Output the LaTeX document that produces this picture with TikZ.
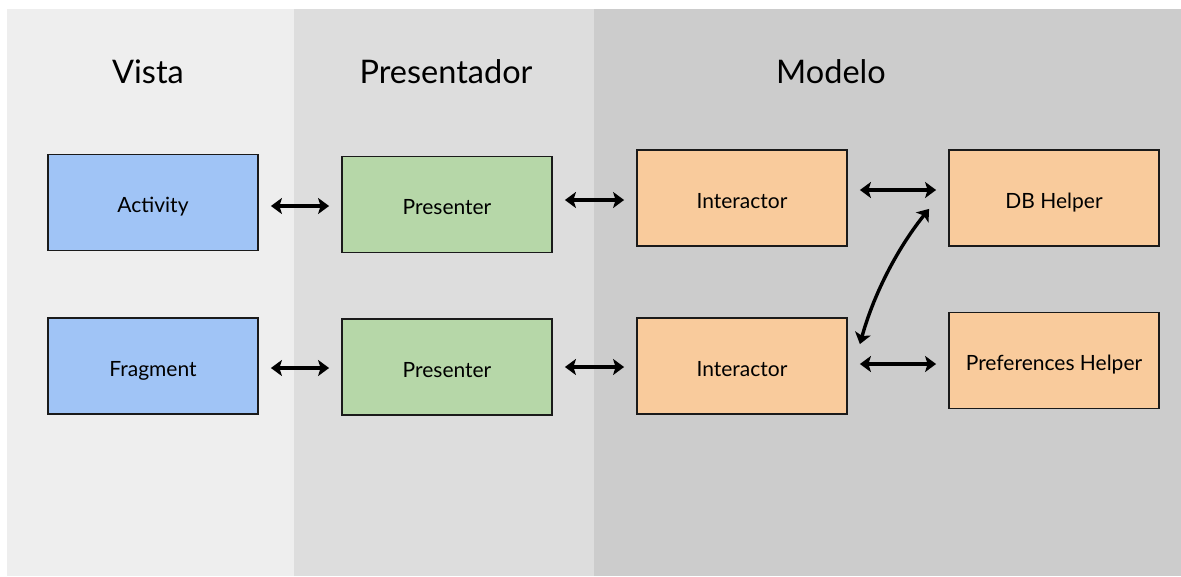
\documentclass[tikz,border=0pt]{standalone}
\usepackage{fontspec}
\setmainfont{Lato}
\usetikzlibrary{arrows.meta}
\definecolor{vistabg}{HTML}{EEEEEE}
\definecolor{presbg}{HTML}{DDDDDD}
\definecolor{modelbg}{HTML}{CCCCCC}
\definecolor{viewfill}{HTML}{A0C4F6}
\definecolor{presfill}{HTML}{B6D7A8}
\definecolor{modelfill}{HTML}{F9CB9C}
\definecolor{edge}{HTML}{1A1A1A}
\tikzset{
  layer/.style={font=\fontsize{32.5}{38}\selectfont, text=black},
  block/.style={draw=edge, line width=1.8pt, minimum width=210pt, minimum height=96pt,
    inner sep=0pt, font=\fontsize{21}{25}\selectfont, text=black,
    text height=20pt, text depth=0pt},
  viewbox/.style={block, fill=viewfill},
  presbox/.style={block, fill=presfill},
  modelbox/.style={block, fill=modelfill},
  link/.style={line width=3.4pt, draw=black,
    {Stealth[length=11pt,width=16pt,inset=2.5pt]}-{Stealth[length=11pt,width=16pt,inset=2.5pt]},
    shorten <=12pt, shorten >=12pt}
}
\begin{document}
\begin{tikzpicture}[x=1pt,y=-1pt]
  \useasboundingbox (0,0) rectangle (1181,576);
  \fill[white] (0,0) rectangle (1181,576);
  % layer backgrounds
  \fill[vistabg] (7,9) rectangle (294,576);
  \fill[presbg] (294,9) rectangle (594,576);
  \fill[modelbg] (594,9) rectangle (1181,576);

  % layer titles
  \node[layer] (tvista) at (148,72) {Vista};
  \node[layer] (tpres) at (446,72) {Presentador};
  \node[layer] (tmodel) at (831,72) {Modelo};

  % components
  \node[viewbox] (act) at (153,202.5) {Activity};
  \node[viewbox] (frag) at (153,366) {Fragment};
  \node[presbox] (pres1) at (447,204.5) {Presenter};
  \node[presbox] (pres2) at (447,367) {Presenter};
  \node[modelbox] (int1) at (742,198) {Interactor};
  \node[modelbox] (int2) at (742,366) {Interactor};
  \node[modelbox] (db) at (1054,198) {DB Helper};
  \node[modelbox] (prefs) at (1054,360.5) {Preferences Helper};

  % connections
  \draw[link] (act.east |- 0,206) -- (pres1.west |- 0,206);
  \draw[link] (frag.east |- 0,368) -- (pres2.west |- 0,368);
  \draw[link] (pres1.east |- 0,200) -- (int1.west |- 0,200);
  \draw[link] (pres2.east |- 0,367) -- (int2.west |- 0,367);
  \draw[link] (int1.east |- 0,190) -- (db.west |- 0,190);
  \draw[link] (int2.east |- 0,364) -- (prefs.west |- 0,364);
  \coordinate (curveA) at ([shift={(12,27)}]int2.north east);
  \coordinate (curveB) at ([shift={(-19,-38)}]db.south west);
  \draw[link, shorten <=0pt, shorten >=0pt] (curveA) .. controls (875,290) and (900,245) .. (curveB);
\end{tikzpicture}
\end{document}
